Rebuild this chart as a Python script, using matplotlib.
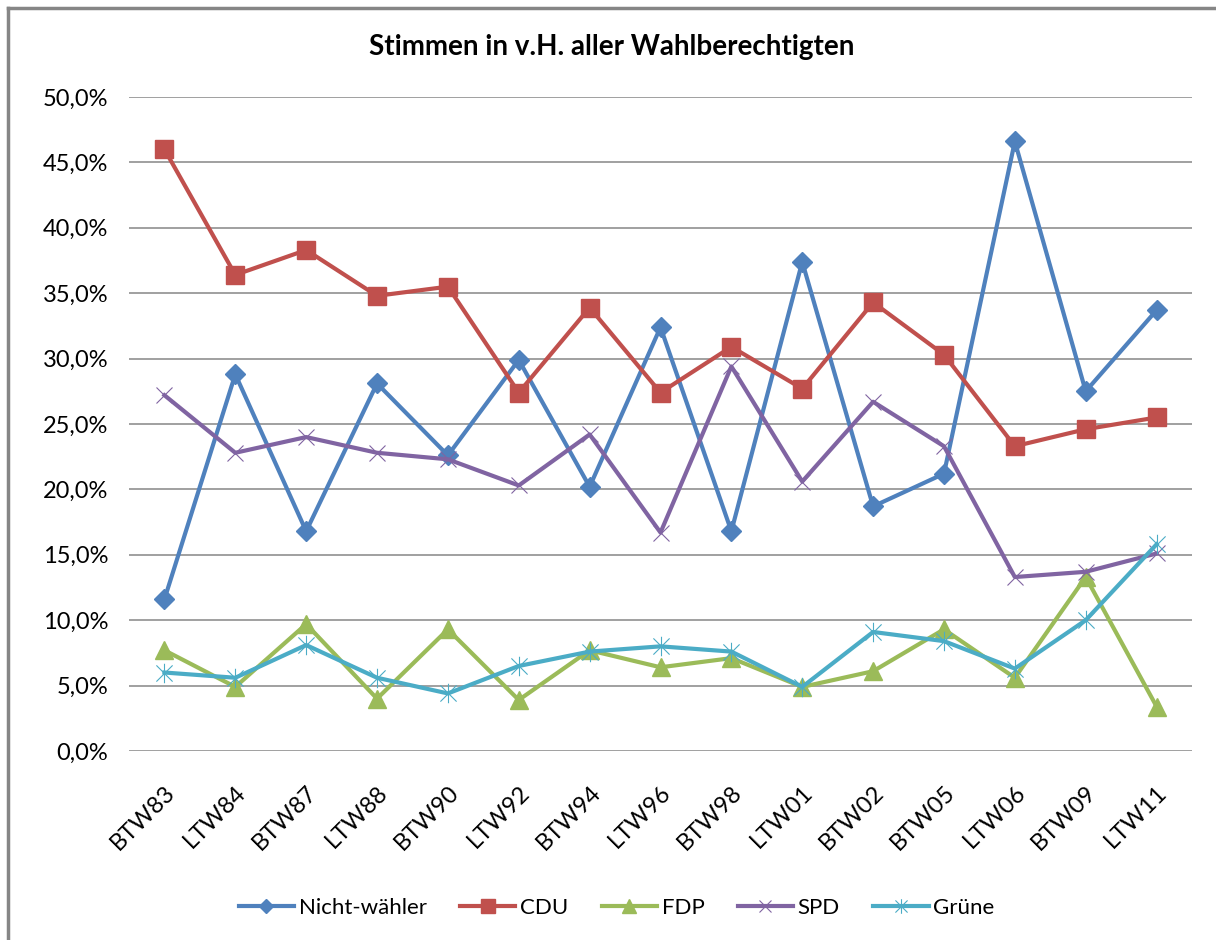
import matplotlib.pyplot as plt
from matplotlib.path import Path
from matplotlib.ticker import FuncFormatter, MultipleLocator
from matplotlib.lines import Line2D

plt.rcParams['font.family'] = ['Lato', 'DejaVu Sans']

# Data (percent of all eligible voters)
elections = ['BTW83', 'LTW84', 'BTW87', 'LTW88', 'BTW90', 'LTW92', 'BTW94', 'LTW96',
             'BTW98', 'LTW01', 'BTW02', 'BTW05', 'LTW06', 'BTW09', 'LTW11']
nichtwaehler = [11.6, 28.8, 16.8, 28.1, 22.6, 29.9, 20.2, 32.4, 16.8, 37.4, 18.7, 21.2, 46.6, 27.5, 33.7]
cdu = [46.0, 36.4, 38.3, 34.8, 35.5, 27.4, 33.9, 27.4, 30.9, 27.7, 34.3, 30.3, 23.3, 24.6, 25.5]
fdp = [7.7, 4.9, 9.7, 4.0, 9.3, 3.9, 7.7, 6.4, 7.1, 4.9, 6.1, 9.3, 5.6, 13.3, 3.4]
spd = [27.2, 22.8, 24.0, 22.8, 22.3, 20.3, 24.2, 16.7, 29.4, 20.6, 26.7, 23.3, 13.3, 13.7, 15.1]
gruene = [6.0, 5.6, 8.1, 5.6, 4.4, 6.5, 7.6, 8.0, 7.6, 4.9, 9.1, 8.4, 6.3, 10.0, 15.8]

# Excel-style star marker: an X plus a vertical bar
star = Path([(-0.5, -0.5), (0.5, 0.5), (-0.5, 0.5), (0.5, -0.5), (0, -0.6), (0, 0.6)],
            [Path.MOVETO, Path.LINETO, Path.MOVETO, Path.LINETO, Path.MOVETO, Path.LINETO])

fig = plt.figure(figsize=(12.16, 9.40), dpi=100)
ax = fig.add_axes([129 / 1216, 1 - 751 / 940, (1192 - 129) / 1216, (751 - 97) / 940])

x = range(len(elections))
series = [
    ('Nicht-wähler', nichtwaehler, '#4F81BD', dict(marker='D', markersize=10)),
    ('CDU', cdu, '#C0504D', dict(marker='s', markersize=13)),
    ('FDP', fdp, '#9BBB59', dict(marker='^', markersize=13)),
    ('SPD', spd, '#8064A2', dict(marker='x', markersize=12, markeredgewidth=0.8)),
    ('Grüne', gruene, '#4BACC6', dict(marker=star, markersize=14, markeredgewidth=0.8)),
]
for name, vals, col, mk in series:
    ax.plot(x, vals, color=col, linewidth=3, label=name,
            markerfacecolor=col, markeredgecolor=col, clip_on=False, **mk)

ax.set_xlim(-0.5, len(elections) - 0.5)
ax.set_ylim(0, 50)
ax.yaxis.set_major_locator(MultipleLocator(5))
ax.yaxis.set_major_formatter(FuncFormatter(lambda v, p: f'{v:.1f}%'.replace('.', ',')))
ax.grid(axis='y', color='#868686', linewidth=1.1)
ax.set_axisbelow(True)
for s in ax.spines.values():
    s.set_visible(False)
ax.tick_params(axis='both', length=0, labelsize=17)
ax.tick_params(axis='y', pad=15)
ax.set_xticks(list(x))
ax.set_xticklabels(elections, rotation=45, ha='right', rotation_mode='anchor')
ax.tick_params(axis='x', pad=22)

fig.text(0.503, 1 - 47 / 940, 'Stimmen in v.H. aller Wahlberechtigten',
         ha='center', va='center', fontsize=20, fontweight='bold')

ax.legend(loc='center', bbox_to_anchor=(0.507, 1 - 908 / 940), bbox_transform=fig.transFigure,
          ncol=5, frameon=False, fontsize=16, handlelength=2.5, handletextpad=0.2,
          columnspacing=1.5, markerscale=0.75)

# chart-area border (left and top edges visible in the original)
fig.add_artist(Line2D([8 / 1216, 8 / 1216], [0, 1 - 8 / 940], transform=fig.transFigure,
                      color='#868686', linewidth=2.5))
fig.add_artist(Line2D([8 / 1216, 1], [1 - 8 / 940, 1 - 8 / 940], transform=fig.transFigure,
                      color='#868686', linewidth=2.5))

fig.savefig('out.png', dpi=100)
